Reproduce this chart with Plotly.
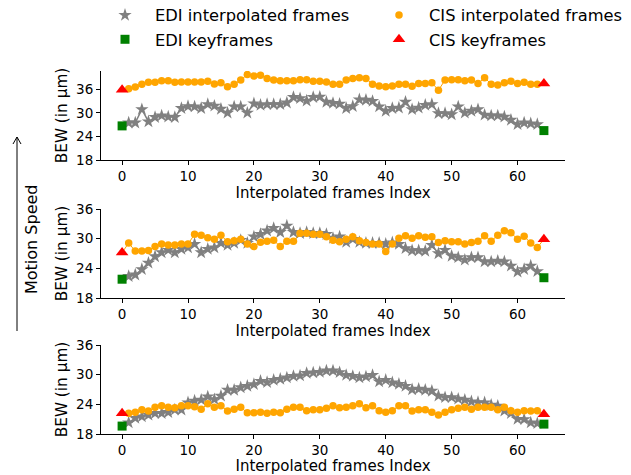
import plotly.graph_objects as go

frames = list(range(65))

edi_1 = [26.7, 27.5, 27.5, 30.9, 27.8, 28.9, 29.3, 29.0, 28.9, 31.2, 31.7, 31.6, 31.2, 32.2, 31.8, 31.0,
         30.0, 31.6, 31.6, 30.0, 32.4, 32.0, 32.2, 32.2, 32.2, 32.6, 34.0, 33.7, 33.1, 34.0, 34.1, 32.8,
         32.5, 32.3, 31.2, 31.7, 33.4, 33.3, 33.0, 31.6, 30.5, 31.2, 31.3, 32.8, 30.9, 31.3, 32.0, 32.2,
         29.9, 29.9, 29.6, 31.6, 30.0, 30.5, 30.9, 29.5, 29.3, 29.3, 29.0, 28.2, 27.1, 27.5, 27.3, 27.1, 25.5]
cis_1 = [35.9, 36.2, 36.6, 37.35, 37.8, 37.8, 38.2, 38.2, 37.8, 37.9, 37.9, 37.9, 37.9, 38.1, 37.4, 37.7,
         36.7, 37.3, 38.4, 39.8, 39.4, 39.6, 38.8, 38.4, 38.2, 38.2, 38.2, 38.5, 38.5, 38.1, 38.1, 37.9,
         37.35, 37.3, 38.4, 38.8, 39.0, 38.8, 37.3, 36.9, 36.7, 36.9, 37.35, 37.35, 36.8, 37.5, 37.5, 37.7,
         35.8, 38.4, 38.5, 38.5, 38.2, 38.4, 37.5, 39.0, 37.35, 37.1, 37.7, 38.1, 37.5, 37.8, 37.35, 37.3, 37.5]

edi_2 = [21.8, 22.4, 22.7, 23.8, 25.1, 26.4, 27.2, 27.7, 27.2, 27.9, 28.2, 28.9, 27.2, 27.9, 28.2, 29.1,
         28.7, 29.1, 29.7, 29.1, 30.4, 30.9, 31.6, 32.1, 31.3, 32.6, 31.3, 31.1, 31.3, 31.1, 31.1, 30.9,
         30.1, 30.4, 29.3, 29.9, 29.3, 29.1, 29.1, 29.1, 28.9, 29.2, 28.9, 28.05, 27.6, 27.6, 27.5, 28.7,
         27.0, 27.7, 26.5, 26.2, 25.7, 26.2, 26.2, 25.35, 25.35, 25.5, 25.35, 24.5, 23.3, 23.8, 24.5, 23.4, 22.1]
cis_2 = [27.2, 29.1, 27.5, 27.5, 27.6, 28.4, 28.9, 28.7, 28.7, 28.9, 28.9, 30.9, 30.7, 30.2, 29.9, 30.7,
         29.4, 29.6, 29.9, 28.9, 28.4, 29.3, 29.5, 29.7, 28.4, 29.5, 29.5, 31.1, 31.1, 30.9, 30.9, 30.4,
         29.7, 29.4, 29.9, 30.4, 29.6, 29.2, 28.9, 28.9, 27.4, 28.9, 30.1, 30.6, 30.1, 30.6, 30.3, 30.4,
         29.2, 29.6, 29.4, 29.4, 28.9, 29.2, 29.5, 30.6, 29.5, 30.7, 31.6, 31.2, 29.9, 30.5, 29.1, 28.2, 29.9]

edi_3 = [19.6, 20.3, 21.2, 21.5, 21.85, 22.2, 22.2, 22.4, 22.9, 22.9, 24.35, 24.7, 24.9, 25.55, 25.0, 25.7,
         26.9, 26.9, 27.4, 27.7, 28.05, 28.7, 28.45, 28.9, 29.1, 29.4, 29.7, 29.8, 30.3, 30.4, 30.5, 30.8,
         30.8, 30.45, 29.9, 29.7, 29.4, 29.6, 29.9, 28.6, 28.9, 28.4, 28.1, 27.7, 27.0, 27.1, 26.9, 26.7,
         25.7, 25.4, 25.4, 25.1, 24.9, 24.55, 24.4, 24.35, 23.87, 23.67, 22.7, 22.2, 21.0, 20.95, 20.3, 20.16, 20.0]
cis_3 = [22.2, 22.2, 22.4, 22.9, 22.65, 23.4, 23.7, 23.4, 23.3, 23.7, 23.7, 23.5, 23.0, 24.1, 23.4, 23.7,
         22.65, 23.0, 23.4, 22.3, 22.3, 22.4, 22.2, 22.4, 22.3, 23.0, 23.4, 23.4, 22.7, 22.9, 22.9, 23.2,
         23.7, 23.3, 23.4, 23.7, 24.1, 23.3, 23.7, 22.7, 22.4, 22.7, 23.7, 23.7, 22.65, 22.9, 22.9, 22.4,
         21.85, 22.4, 22.9, 23.2, 23.4, 23.0, 23.4, 23.4, 23.4, 22.9, 23.4, 22.7, 22.4, 22.7, 22.65, 22.7, 22.0]

panels = [(edi_1, cis_1), (edi_2, cis_2), (edi_3, cis_3)]
y_ranges = [[18, 40.7], [18, 36], [18, 36]]
y_ticks = [18, 24, 30, 36]
x_ticks = [0, 10, 20, 30, 40, 50, 60]

W, H = 631, 475
TOP = 20                      # top margin in px, so the legend sits inside it
HP = H - TOP                  # plot-area height
FONT = "DejaVu Sans"


def py(p):
    """figure pixel row -> paper y fraction (plot area starts at TOP)"""
    return (H - p) / HP


# pixel boxes (top, bottom) of each panel
panel_px = [(71, 160), (209, 298), (345, 434)]
x_left_px, x_right_px = 101, 565

fig = go.Figure()

for k, (edi, cis) in enumerate(panels):
    ax = "" if k == 0 else str(k + 1)
    xa, ya = "x" + ax, "y" + ax
    first = k == 0
    inner = frames[1:-1]
    keys = [frames[0], frames[-1]]
    fig.add_trace(go.Scatter(x=frames, y=edi, mode="lines", line=dict(color="#808080", width=1.5),
                             showlegend=False, hoverinfo="skip", xaxis=xa, yaxis=ya))
    fig.add_trace(go.Scatter(x=inner, y=edi[1:-1], mode="markers", name="EDI interpolated frames",
                             marker=dict(symbol="star", size=10, color="#808080"),
                             showlegend=first, legend="legend", legendrank=1, xaxis=xa, yaxis=ya))
    fig.add_trace(go.Scatter(x=keys, y=[edi[0], edi[-1]], mode="markers", name="EDI keyframes",
                             marker=dict(symbol="square", size=9, color="#008000"),
                             showlegend=first, legend="legend", legendrank=2, xaxis=xa, yaxis=ya))
    fig.add_trace(go.Scatter(x=frames, y=cis, mode="lines", line=dict(color="#FFA500", width=1),
                             showlegend=False, hoverinfo="skip", xaxis=xa, yaxis=ya))
    fig.add_trace(go.Scatter(x=inner, y=cis[1:-1], mode="markers", name="CIS interpolated frames",
                             marker=dict(symbol="circle", size=7.5, color="#FFA500"),
                             showlegend=first, legend="legend2", legendrank=1, xaxis=xa, yaxis=ya))
    fig.add_trace(go.Scatter(x=keys, y=[cis[0], cis[-1]], mode="markers", name="CIS keyframes",
                             marker=dict(symbol="triangle-up", size=11, color="#FF0000"),
                             showlegend=first, legend="legend2", legendrank=2, xaxis=xa, yaxis=ya))

    top, bot = panel_px[k]
    axis_common = dict(showline=True, linecolor="black", linewidth=1, ticks="outside", ticklen=4,
                       tickwidth=1, tickcolor="black", showgrid=False, zeroline=False,
                       tickfont=dict(family=FONT, size=13.5, color="black"))
    fig.update_layout(**{
        "xaxis" + ax: dict(domain=[x_left_px / W, x_right_px / W], range=[-3.2, 67.2],
                           tickvals=x_ticks, anchor=ya,
                           title=dict(text="Interpolated frames Index", standoff=4,
                                      font=dict(family=FONT, size=15, color="black")),
                           **axis_common),
        "yaxis" + ax: dict(domain=[py(bot), py(top)], range=y_ranges[k],
                           tickvals=y_ticks, anchor=xa,
                           title=dict(text="BEW (in μm)", standoff=4,
                                      font=dict(family=FONT, size=15.3, color="black")),
                           **axis_common),
    })

# Motion speed arrow
ax_px, y_top, y_bot = 17, 137, 331
path = (f"M {ax_px / W},{py(y_bot)} L {ax_px / W},{py(y_top)} "
        f"M {(ax_px - 4) / W},{py(y_top + 7)} L {ax_px / W},{py(y_top)} "
        f"L {(ax_px + 4) / W},{py(y_top + 7)}")
fig.add_shape(type="path", path=path, xref="paper", yref="paper",
              line=dict(color="black", width=1))
fig.add_annotation(text="Motion Speed", x=32 / W, y=py(240), xref="paper", yref="paper",
                   textangle=-90, showarrow=False, xanchor="center", yanchor="middle",
                   font=dict(family=FONT, size=16, color="black"))

legend_common = dict(orientation="v", yanchor="top", xanchor="left", itemwidth=50,
                     font=dict(family=FONT, size=16.3, color="black"), bgcolor="rgba(0,0,0,0)")
fig.update_layout(
    width=W, height=H,
    margin=dict(l=0, r=0, t=TOP, b=0, autoexpand=False),
    paper_bgcolor="white", plot_bgcolor="white",
    font=dict(family=FONT, size=14, color="black"),
    legend=dict(x=95 / W, y=py(-2), **legend_common),
    legend2=dict(x=369 / W, y=py(-2), **legend_common),
)

fig.write_html("out.html")
